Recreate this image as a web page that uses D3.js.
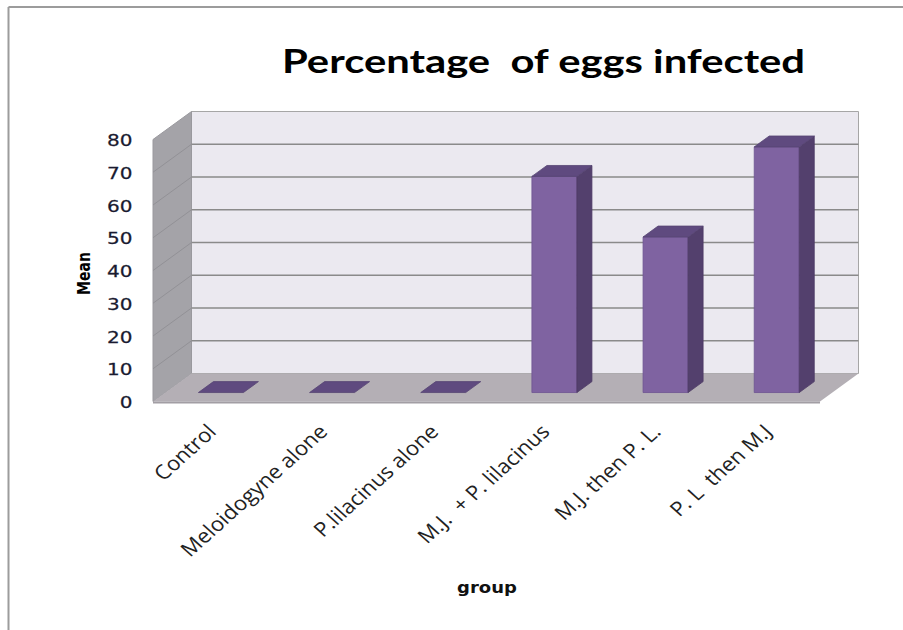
<!DOCTYPE html>
<html>
<head>
<meta charset="utf-8">
<script src="https://cdn.jsdelivr.net/npm/d3@7/dist/d3.min.js"></script>
<style>
  html, body { margin: 0; padding: 0; background: #fff; }
  svg { display: block; }
  text { white-space: pre; }
</style>
</head>
<body>
<svg id="chart" width="903" height="630"></svg>
<script>
// Groups and their mean percentage of infected eggs
const categories = [
  "Control",
  "Meloidogyne alone",
  "P.lilacinus alone",
  "M.J.  + P. lilacinus",
  "M.J. then P. L.",
  "P. L  then M.J"
];
const meanValues = [0, 0, 0, 66, 47.5, 75];
const yTicks = [0, 10, 20, 30, 40, 50, 60, 70, 80];
const titleText = "Percentage  of eggs infected";
const yTitle = "Mean";
const xTitle = "group";

const svg = d3.select("#chart");

// Front plane of the 3-D box
const x = d3.scaleBand()
  .domain(categories)
  .range([153, 820])
  .paddingInner(0.595)
  .paddingOuter(0.2975);
const y = d3.scaleLinear().domain([0, 80]).range([401.5, 139.5]);

// Oblique depth offset (front -> back)
const DX = 38.5, DY = -28;
// Bars occupy this slice of the depth
const F0 = 0.32, F1 = 0.71;

const x0 = x.range()[0], x1 = x.range()[1];
const yMin = y(0), yMax = y(80);
const poly = pts => pts.map(p => p.join(",")).join(" ");

// Outer frame (top and left edges)
svg.append("line").attr("x1", 8.5).attr("y1", 7).attr("x2", 903).attr("y2", 7)
  .attr("stroke", "#9c9c9c").attr("stroke-width", 2);
svg.append("line").attr("x1", 8.5).attr("y1", 7).attr("x2", 8.5).attr("y2", 630)
  .attr("stroke", "#9c9c9c").attr("stroke-width", 2);

// Back wall
svg.append("polygon")
  .attr("points", poly([[x0 + DX, yMax + DY], [x1 + DX, yMax + DY], [x1 + DX, yMin + DY], [x0 + DX, yMin + DY]]))
  .attr("fill", "#ebe9f0")
  .attr("stroke", "#a6a6a6").attr("stroke-width", 1);

// Side wall
svg.append("polygon")
  .attr("points", poly([[x0, yMax], [x0 + DX, yMax + DY], [x0 + DX, yMin + DY], [x0, yMin]]))
  .attr("fill", "#a4a3a8")
  .attr("stroke", "#9a999e").attr("stroke-width", 1);

// Floor
svg.append("polygon")
  .attr("points", poly([[x0, yMin], [x1, yMin], [x1 + DX, yMin + DY], [x0 + DX, yMin + DY]]))
  .attr("fill", "#b4afb5");
svg.append("line")
  .attr("x1", x0).attr("y1", yMin + 1).attr("x2", x1).attr("y2", yMin + 1)
  .attr("stroke", "#a29ea4").attr("stroke-width", 2);

// Gridlines on the back wall and the side wall
const grid = yTicks.filter(v => v > 0 && v < 80);
svg.append("g").selectAll("line").data(grid).join("line")
  .attr("x1", x0 + DX).attr("x2", x1 + DX)
  .attr("y1", d => y(d) + DY).attr("y2", d => y(d) + DY)
  .attr("stroke", "#8a8a8a").attr("stroke-width", 1.6);
svg.append("g").selectAll("line").data(grid).join("line")
  .attr("x1", x0).attr("x2", x0 + DX)
  .attr("y1", d => y(d)).attr("y2", d => y(d) + DY)
  .attr("stroke", "#929196").attr("stroke-width", 1);

// Bars
const bw = x.bandwidth();
const ddx = (F1 - F0) * DX, ddy = (F1 - F0) * DY;
const bars = svg.append("g").selectAll("g")
  .data(categories.map((c, i) => ({ c, v: meanValues[i] })))
  .join("g");

bars.each(function (d) {
  const g = d3.select(this);
  const L = x(d.c) + F0 * DX, R = L + bw;
  const B = y(0) + F0 * DY, T = y(d.v) + F0 * DY;
  if (d.v > 0) {
    g.append("polygon")
      .attr("points", poly([[L, T], [R, T], [R, B], [L, B]]))
      .attr("fill", "#7f63a1").attr("stroke", "#6d5490").attr("stroke-width", 0.8);
    g.append("polygon")
      .attr("points", poly([[R, T], [R + ddx, T + ddy], [R + ddx, B + ddy], [R, B]]))
      .attr("fill", "#53406d").attr("stroke", "#4c3a64").attr("stroke-width", 0.8);
  }
  g.append("polygon")
    .attr("points", poly([[L, T], [R, T], [R + ddx, T + ddy], [L + ddx, T + ddy]]))
    .attr("fill", "#5f4a7f").attr("stroke", "#574574").attr("stroke-width", 0.8);
});

// Y-axis tick labels
svg.append("g").selectAll("text").data(yTicks).join("text")
  .attr("transform", d => `translate(132.5,${y(d) + 1}) scale(1.25,1)`)
  .attr("text-anchor", "end")
  .attr("dominant-baseline", "central")
  .attr("font-family", "DejaVu Sans")
  .attr("font-size", 16)
  .attr("fill", "#1a1a30")
  .attr("stroke", "#1a1a30").attr("stroke-width", 0.25)
  .text(d => d);

// X-axis category labels
svg.append("g").selectAll("text").data(categories).join("text")
  .attr("transform", d => `translate(${x(d) + bw / 2 + 9},433) scale(1.11,1) rotate(-45)`)
  .attr("text-anchor", "end")
  .attr("font-family", "Open Sans")
  .attr("font-size", 20)
  .attr("fill", "#222")
  .text(d => d);

// Title
svg.append("text")
  .attr("x", 282).attr("y", 72.5)
  .attr("font-family", "Lato").attr("font-weight", 700)
  .attr("font-size", 33)
  .attr("textLength", 523).attr("lengthAdjust", "spacingAndGlyphs")
  .attr("fill", "#000")
  .text(titleText);

// Axis titles
svg.append("text")
  .attr("transform", "translate(90,273.5) scale(1.25,1) rotate(-90)")
  .attr("text-anchor", "middle")
  .attr("font-family", "DejaVu Sans").attr("font-weight", 700)
  .attr("font-size", 14)
  .attr("fill", "#000")
  .text(yTitle);

svg.append("text")
  .attr("transform", "translate(487,593) scale(1.2,1)")
  .attr("text-anchor", "middle")
  .attr("font-family", "DejaVu Sans").attr("font-weight", 700)
  .attr("font-size", 15)
  .attr("fill", "#111")
  .text(xTitle);
</script>
</body>
</html>
